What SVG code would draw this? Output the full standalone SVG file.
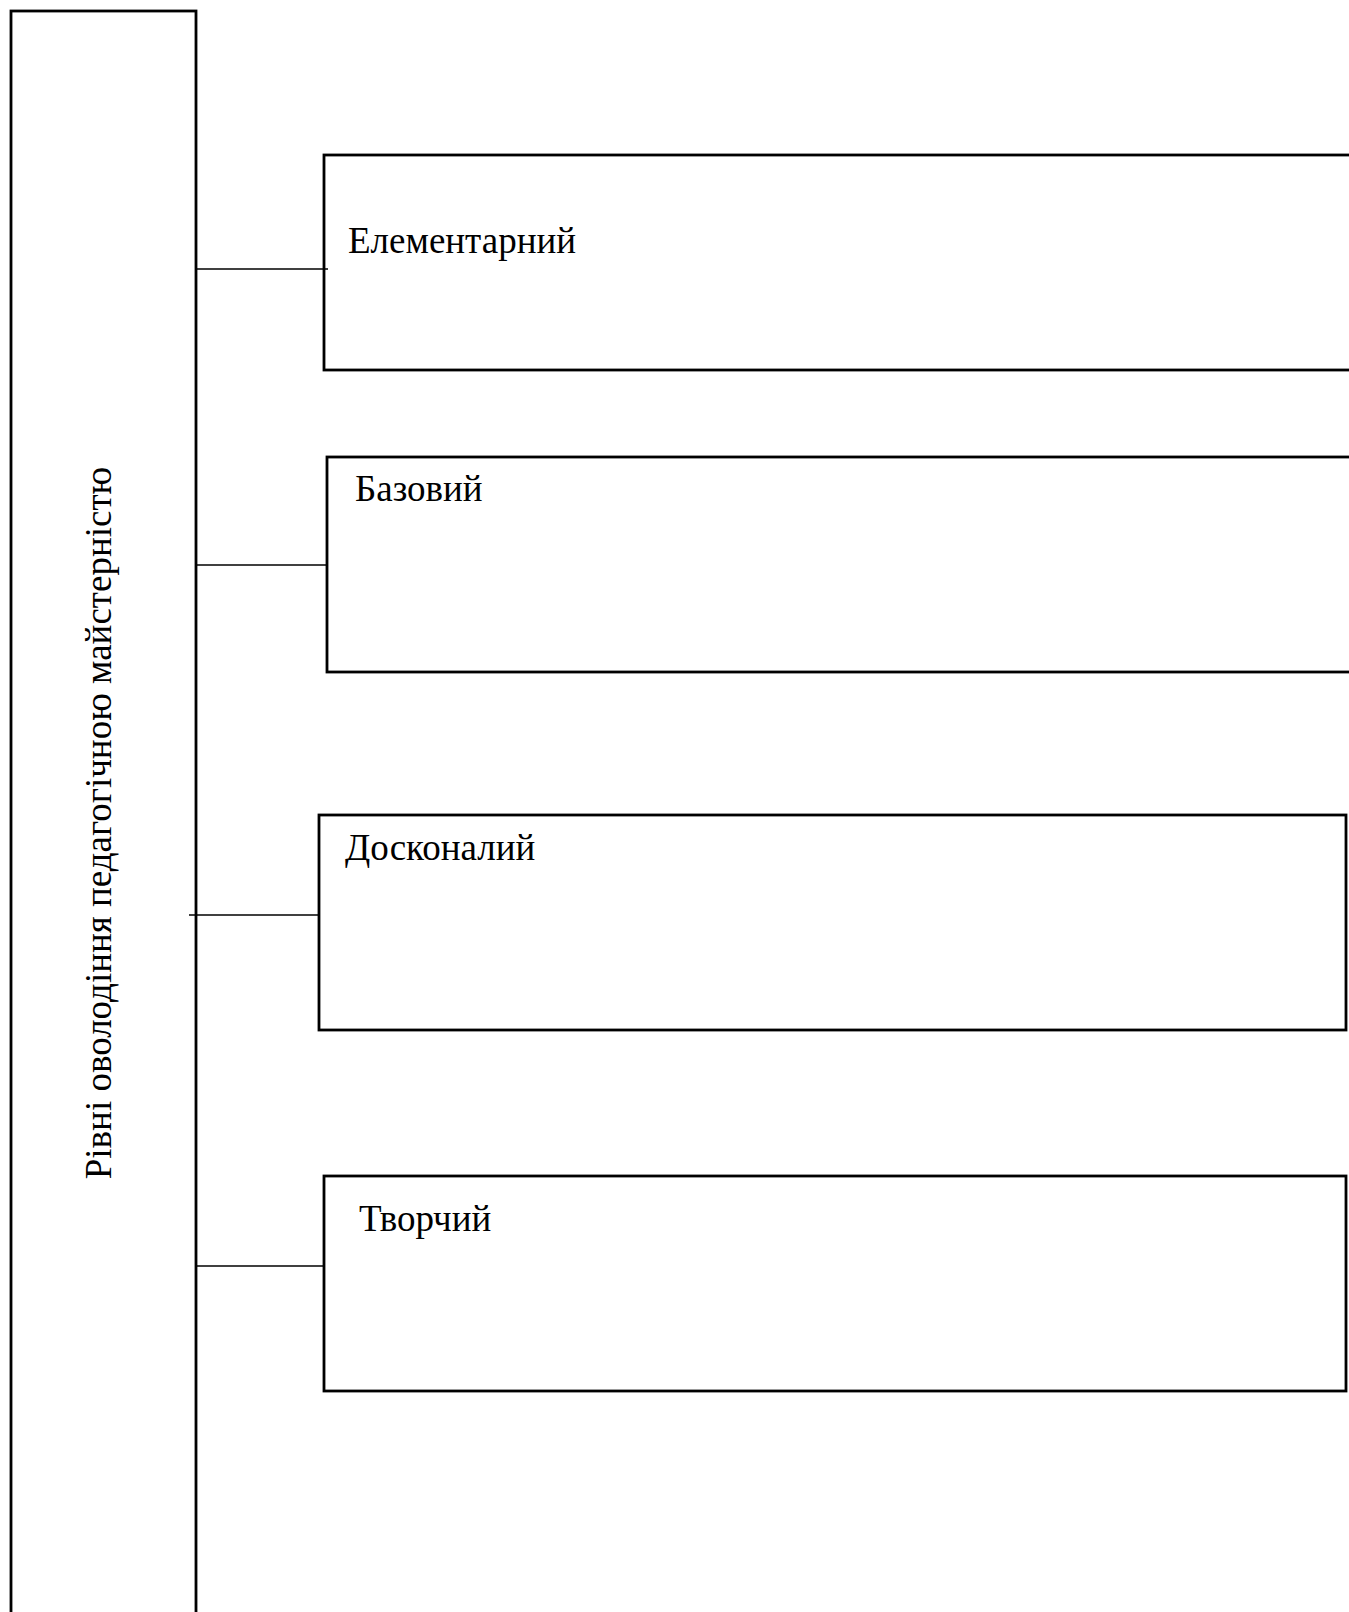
<svg xmlns="http://www.w3.org/2000/svg" width="1349" height="1612" viewBox="0 0 1349 1612">
<style>
.box{fill:#fff;stroke:#000;stroke-width:2.8}
.lbl{font-family:"Liberation Serif","Times New Roman",serif;font-size:37px;fill:#000}
.conn line{stroke:#000;stroke-width:1.5}
</style>
<rect width="1349" height="1612" fill="#fff"/>
<g id="root">
<rect class="box" x="11" y="11" width="185" height="1640"/>
<text class="lbl" transform="translate(111,823) rotate(-90)" text-anchor="middle">Рівні оволодіння педагогічною майстерністю</text>
</g>
<g id="n1">
<rect class="box" x="324" y="155" width="1060" height="215"/>
<text class="lbl" x="348" y="253">Елементарний</text>
</g>
<g id="n2">
<rect class="box" x="327" y="457" width="1060" height="215"/>
<text class="lbl" x="355" y="501">Базовий</text>
</g>
<g id="n3">
<rect class="box" x="319" y="815" width="1027" height="215"/>
<text class="lbl" x="345" y="860">Досконалий</text>
</g>
<g id="n4">
<rect class="box" x="324" y="1176" width="1022" height="215"/>
<text class="lbl" x="359" y="1231">Творчий</text>
</g>
<g class="conn" id="connectors">
<line x1="196" y1="269" x2="328" y2="269"/>
<line x1="196" y1="565" x2="327" y2="565"/>
<line x1="189" y1="915" x2="319" y2="915"/>
<line x1="196" y1="1266" x2="324" y2="1266"/>
</g>
</svg>
